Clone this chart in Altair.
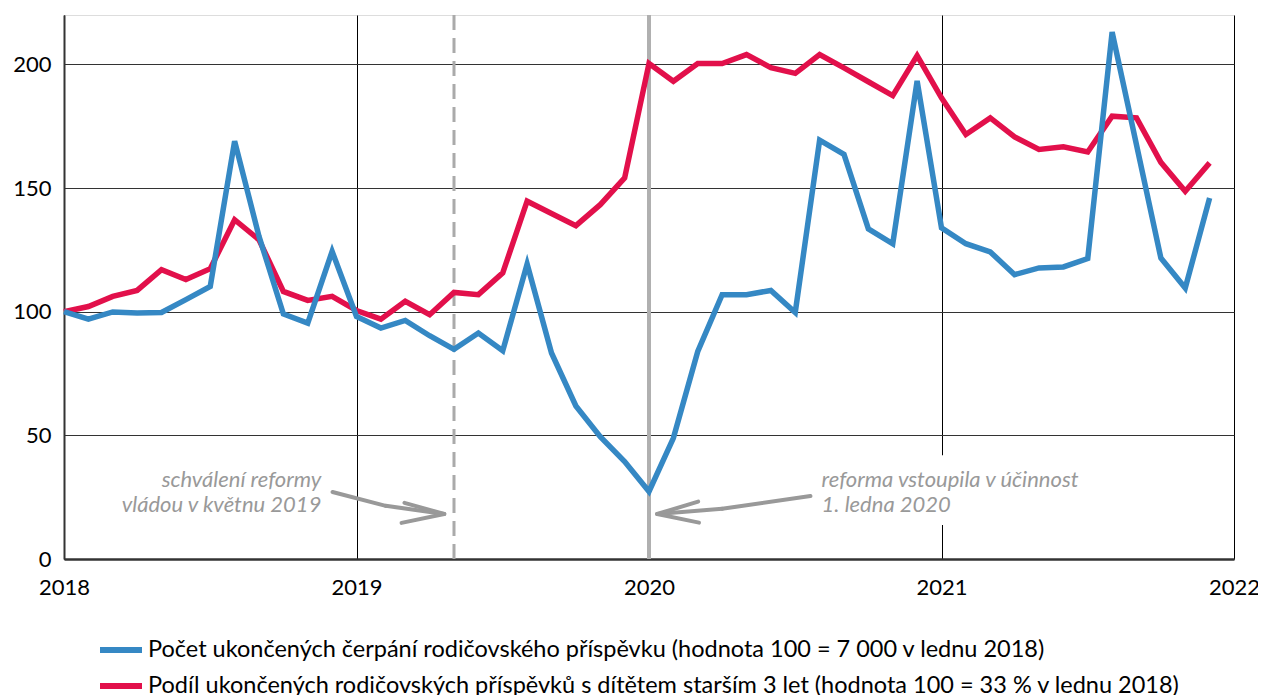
import altair as alt
import pandas as pd

# ---------------- data ----------------
months = list(range(48))  # Jan 2018 .. Dec 2021
blue_vals = [100, 97.0, 99.9, 99.5, 99.7, 104.9, 110.2, 169.0, 130.5, 99.1, 95.4, 124.4,
             98.1, 93.4, 96.5, 90.3, 84.8, 91.4, 84.2, 119.3, 83.3, 61.9, 49.5, 39.4,
             27.3, 48.9, 83.9, 106.9, 106.9, 108.6, 99.7, 169.4, 163.6, 133.5, 127.5, 193.3,
             133.9, 127.5, 124.2, 115.0, 117.7, 118.1, 121.5, 213.1, 167.5, 121.7, 109.6, 146.0]
red_vals = [100.0, 102.1, 106.2, 108.6, 117.0, 113.0, 117.4, 137.2, 129.1, 108.2, 104.6, 106.2,
            100.5, 97.0, 104.2, 98.8, 107.8, 106.9, 115.7, 144.7, 139.7, 134.8, 143.3, 154.1,
            200.4, 193.2, 200.4, 200.4, 204.0, 198.7, 196.4, 204.0, 198.6, 193.0, 187.4, 203.6,
            186.5, 171.7, 178.4, 170.7, 165.6, 166.7, 164.6, 179.1, 178.4, 160.4, 148.7, 160.2]
series_names = [
    "Počet ukončených čerpání rodičovského příspěvku (hodnota 100 = 7 000 v lednu 2018)",
    "Podíl ukončených rodičovských příspěvků s dítětem starším 3 let (hodnota 100 = 33 % v lednu 2018)",
]
series_colors = ["#3588c4", "#e2104b"]
year_ticks = [2018, 2019, 2020, 2021, 2022]
y_ticks = [0, 50, 100, 150, 200]

# reference events
event_x = [2019 + 4 / 12, 2020.0]           # May 2019 (approval), Jan 2020 (in force)
event_dash = ["dash", "solid"]

# annotation texts
ann_left_lines = ["schválení reformy", "vládou v květnu 2019"]
ann_right_lines = ["reforma vstoupila v účinnost", "1. ledna 2020"]
ann_left_x = 2018.88
ann_right_x = 2020.59
ann_line_y = [29.0, 19.0]

# hand-drawn arrows (segments: x, y, x2, y2)
arrow_segments = [
    (2018.918, 27.1, 2019.10, 21.5), (2019.10, 21.5, 2019.300, 18.2),
    (2019.164, 22.7, 2019.300, 18.2), (2019.154, 14.6, 2019.300, 18.2),
    (2020.552, 25.5, 2020.25, 20.3), (2020.25, 20.3, 2020.028, 18.2),
    (2020.168, 23.2, 2020.028, 18.2), (2020.171, 14.7, 2020.028, 18.2),
]
# white box behind right annotation (breaks the 2021 gridline as in the original)
ann_box = dict(x=2020.563, x2=2021.70, y=13.8, y2=42.0)

FONT = "Lato"

rows = []
for name, vals in zip(series_names, [blue_vals, red_vals]):
    for m, v in zip(months, vals):
        rows.append({"t": 2018 + m / 12, "v": v, "s": name})
df = pd.DataFrame(rows)

x_scale = alt.Scale(domain=[2018, 2022], nice=False, zero=False)
y_scale = alt.Scale(domain=[0, 220], nice=False)
color_scale = alt.Scale(domain=series_names, range=series_colors)

x_axis = alt.Axis(values=year_ticks, format="d", title=None, grid=True, gridColor="#000",
                  gridWidth=1, ticks=False, labelPadding=18, labelFontSize=22, labelFont=FONT,
                  labelColor="#000", domainColor="#333", domainWidth=2.5, labelFlush=False)
y_axis = alt.Axis(values=y_ticks, title=None, grid=True, gridColor="#333", gridWidth=1,
                  ticks=False, labelPadding=13, labelFontSize=22, labelFont=FONT,
                  labelColor="#000", domainColor="#333", domainWidth=2)

# white box
box = alt.Chart(pd.DataFrame([ann_box])).mark_rect(color="white").encode(
    x=alt.X("x:Q", scale=x_scale, axis=x_axis), x2="x2:Q",
    y=alt.Y("y:Q", scale=y_scale, axis=y_axis), y2="y2:Q")

ev_df = pd.DataFrame({"x": event_x, "k": event_dash})
ev_dash = alt.Chart(ev_df[ev_df.k == "dash"]).mark_rule(
    color="#aaaaaa", strokeWidth=3, strokeDash=[15, 8]).encode(x=alt.X("x:Q", scale=x_scale))
ev_solid = alt.Chart(ev_df[ev_df.k == "solid"]).mark_rule(
    color="#b0b0b0", strokeWidth=4).encode(x=alt.X("x:Q", scale=x_scale))

line_enc = dict(
    x=alt.X("t:Q", scale=x_scale),
    y=alt.Y("v:Q", scale=y_scale),
    color=alt.Color("s:N", scale=color_scale, sort=series_names, title=None,
                    legend=alt.Legend(orient="none", legendX=33, legendY=611, direction="vertical",
                                      symbolType="stroke", symbolSize=1764, symbolStrokeWidth=6,
                                      labelFontSize=23.5, labelFont=FONT, labelColor="#000",
                                      labelLimit=2000, rowPadding=-12, labelOffset=3, padding=0)),
)
red_line = alt.Chart(df[df.s == series_names[1]]).mark_line(strokeWidth=5.5, strokeJoin="miter").encode(**line_enc)
blue_line = alt.Chart(df[df.s == series_names[0]]).mark_line(strokeWidth=5.5, strokeJoin="miter").encode(**line_enc)

arr_df = pd.DataFrame(arrow_segments, columns=["x", "y", "x2", "y2"])
arrows = alt.Chart(arr_df).mark_rule(color="#999999", strokeWidth=4, strokeCap="round").encode(
    x=alt.X("x:Q", scale=x_scale), x2="x2:Q", y=alt.Y("y:Q", scale=y_scale), y2="y2:Q")

tl = pd.DataFrame({"x": [ann_left_x] * 2, "y": ann_line_y, "txt": ann_left_lines})
tr = pd.DataFrame({"x": [ann_right_x] * 2, "y": ann_line_y, "txt": ann_right_lines})
txt_left = alt.Chart(tl).mark_text(align="right", baseline="alphabetic", font=FONT, fontStyle="italic",
                                   fontSize=22, color="#999999").encode(
    x=alt.X("x:Q", scale=x_scale), y=alt.Y("y:Q", scale=y_scale), text="txt:N")
txt_right = alt.Chart(tr).mark_text(align="left", baseline="alphabetic", font=FONT, fontStyle="italic",
                                    fontSize=22, color="#999999").encode(
    x=alt.X("x:Q", scale=x_scale), y=alt.Y("y:Q", scale=y_scale), text="txt:N")

chart = alt.layer(box, ev_dash, ev_solid, arrows, txt_left, txt_right, red_line, blue_line).properties(
    width=1170, height=544,
    padding={"left": 56, "top": 7, "right": 24, "bottom": 136},
    autosize=alt.AutoSizeParams(type="none"),
).configure_view(stroke="#333", strokeWidth=2).configure(background="white")

chart.save("out.html", embed_options={"renderer": "svg", "actions": False})
